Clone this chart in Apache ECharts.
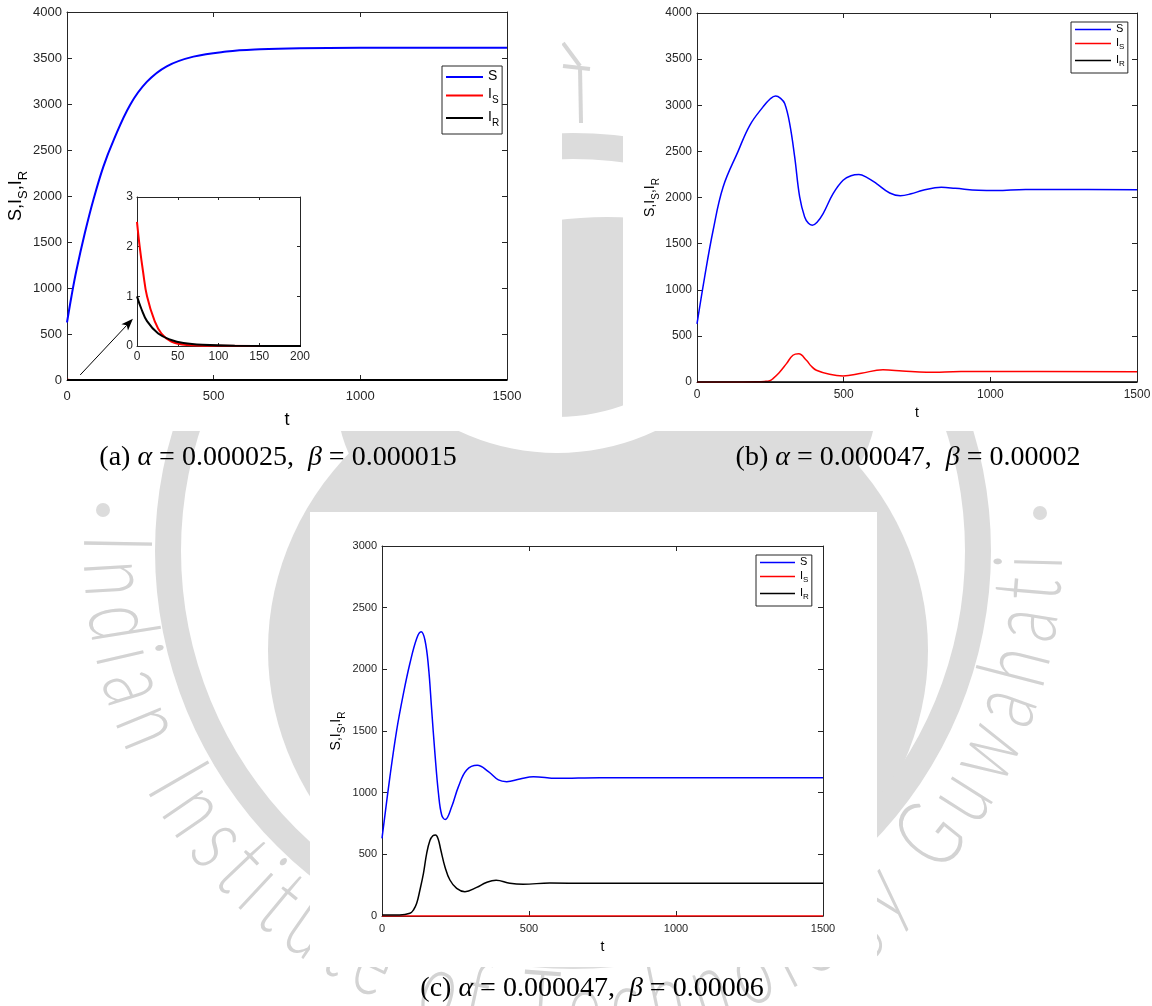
<!DOCTYPE html>
<html>
<head>
<meta charset="utf-8">
<script src="https://cdn.jsdelivr.net/npm/echarts@6/dist/echarts.min.js"></script>
<style>
html,body{margin:0;padding:0;background:#fff}
#chart{width:1152px;height:1006px}
</style>
</head>
<body>
<div id="chart"></div>
<script>
// ---- (a) alpha = 0.000025, beta = 0.000015 : [t, value] ----
const aS  = [[0,625],[15,905],[32,1190],[61,1600],[90,1960],[124,2320],[158,2600],[215,2990],[272,3240],[340,3410],[431,3515],[544,3570],[658,3594],[794,3606],[1000,3611],[1500,3612]];
const aIS = [[0,2.5],[3.3,2.0],[7.4,1.5],[12.3,1.0],[21.7,0.5],[30,0.25],[42,0.09],[61,0.02],[90,0.003],[200,0],[1500,0]];
const aIR = [[0,1.0],[5.3,0.75],[12.3,0.5],[26,0.25],[42,0.12],[57,0.06],[80,0.025],[120,0.006],[200,0.001],[1500,0]];

// ---- (b) alpha = 0.000047, beta = 0.00002 ----
const bS  = [[0,630],[26,1138],[55,1645],[89,2114],[140,2500],[180,2783],[225,2982],[250,3070],[268,3100],[285,3075],[299,3018],[316,2801],[333,2440],[350,2006],[367,1789],[380,1720],[393,1700],[410,1735],[430,1826],[464,2042],[498,2187],[525,2235],[552,2248],[580,2215],[612,2151],[657,2049],[693,2020],[730,2040],[770,2078],[833,2110],[880,2100],[960,2078],[1020,2076],[1120,2088],[1250,2086],[1500,2085]];
const bIS = [[0,0],[150,0.5],[200,2],[230,6],[248,14],[259,37],[280,100],[305,199],[327,290],[347,305],[373,235],[390,170],[407,127],[452,83],[498,66],[560,95],[634,132],[700,120],[782,106],[900,113],[1000,114],[1500,112]];
const bIR = [[0,1],[100,0.1],[1500,0]];

// ---- (c) alpha = 0.000047, beta = 0.00006 ----
const cS  = [[0,630],[27,1130],[50,1508],[73,1805],[95,2049],[118,2251],[133,2305],[146,2238],[158,2022],[169,1670],[180,1319],[192,995],[203,819],[215,782],[237,886],[260,1049],[288,1184],[324,1222],[362,1170],[396,1103],[424,1089],[469,1111],[515,1130],[594,1116],[741,1121],[1000,1120],[1500,1120]];
const cIS = [[0,0],[1500,0]];
const cIR = [[0,8],[60,8],[95,22],[107,49],[118,103],[129,211],[141,346],[152,508],[163,612],[173,650],[182,657],[191,625],[200,535],[214,400],[231,292],[254,224],[282,197],[322,232],[355,272],[388,290],[435,265],[480,257],[571,268],[700,265],[1500,265]];

// ---- axis ranges [min, max, step] ----
const tRange      = [0, 1500, 500];
const insetTRange = [0, 200, 50];
const yRangeAB    = [0, 4000, 500];
const yRangeInset = [0, 3, 1];
const yRangeC     = [0, 3000, 500];

// ---- texts ----
const legendLabels = {S: '{m|S}', IS: '{m|I}{s|S}', IR: '{m|I}{s|R}'};
const yAxisTitle = '{m|S,I}{s|S}{m|,I}{s|R}';
const xAxisTitle = 't';
const captions = [
  '(a) {i|α} = 0.000025,  {i|β} = 0.000015',
  '(b) {i|α} = 0.000047,  {i|β} = 0.00002',
  '(c) {i|α} = 0.000047,  {i|β} = 0.00006'
];
const sealText = 'Indian Institute of Technology Guwahati';

// arrow from the main axes of (a) to the inset: tail in (a) units, head in inset units
const arrowTail = [45, 55];
const arrowHead = [-5, 0.55];

const SANS = "'Liberation Sans', Arial, Helvetica, sans-serif";
const SERIF = "'Liberation Serif', 'DejaVu Serif', serif";
const INK = '#262626';
const BLUE = '#0000ff', RED = '#ff0000', BLACK = '#000000';

function axisPair(dim, g, range, o) {
  const base = {
    gridIndex: g, type: 'value', min: range[0], max: range[1], interval: range[2],
    axisLine: {show: true, onZero: false, lineStyle: {color: INK, width: 1}},
    axisTick: {show: true, inside: true, length: o.tick, lineStyle: {color: INK, width: 1}},
    splitLine: {show: false}, minorTick: {show: false}
  };
  const main = Object.assign({}, base, {
    position: dim === 'x' ? 'bottom' : 'left',
    axisLabel: {show: true, margin: o.margin, fontSize: o.fs, fontFamily: SANS, color: INK, formatter: v => String(v)}
  });
  if (o.name) {
    Object.assign(main, {
      name: o.name, nameLocation: 'middle', nameGap: o.nameGap, nameMoveOverlap: false,
      nameRotate: dim === 'y' ? 90 : 0,
      nameTextStyle: o.nameStyle
    });
  }
  const mirror = Object.assign({}, base, {
    position: dim === 'x' ? 'top' : 'right',
    axisLabel: {show: false}
  });
  return [main, mirror];
}

function nameStyle(big, small, drop) {
  return {
    color: '#000', fontFamily: SANS, fontSize: big,
    rich: {
      m: {fontSize: big, fontFamily: SANS, color: '#000', lineHeight: big + 2, verticalAlign: 'top'},
      s: {fontSize: small, fontFamily: SANS, color: '#000', lineHeight: small, padding: [drop, 0, 0, 0], verticalAlign: 'top'}
    }
  };
}

function line(name, data, color, width, xi) {
  return {
    name, type: 'line', data, xAxisIndex: xi, yAxisIndex: xi,
    showSymbol: false, symbol: 'none', smooth: 0.4,
    lineStyle: {color, width}, itemStyle: {color}, emphasis: {disabled: true},
    clip: true
  };
}

function legend(prefix, left, top, o) {
  return {
    orient: 'vertical', left, top,
    data: [prefix + 'S', prefix + 'IS', prefix + 'IR'].map(n => ({name: n, icon: 'rect'})),
    formatter: n => legendLabels[n.slice(2)],
    itemWidth: o.iw, itemHeight: o.ih, itemGap: o.gap, padding: o.pad,
    borderColor: INK, borderWidth: 1, borderRadius: 0, backgroundColor: '#fff',
    selectedMode: false,
    textStyle: {
      color: '#000', fontFamily: SANS, fontSize: o.m,
      rich: {
        m: {fontSize: o.m, fontFamily: SANS, color: '#000', lineHeight: o.m + 2, verticalAlign: 'top'},
        s: {fontSize: o.s, fontFamily: SANS, color: '#000', lineHeight: o.s, padding: [o.drop, 0, 0, 0], verticalAlign: 'top'}
      }
    }
  };
}

const grids = [
  {left: 67, top: 12, width: 440, height: 368},
  {left: 137, top: 197, width: 163, height: 149},
  {left: 697, top: 13, width: 440, height: 369},
  {left: 382, top: 546, width: 441, height: 370}
].map(g => Object.assign({show: false, containLabel: false, outerBoundsMode: 'none'}, g));

const xa = [].concat(
  axisPair('x', 0, tRange, {tick: 5, margin: 10, fs: 13, name: xAxisTitle, nameGap: 31, nameStyle: {fontSize: 18, fontFamily: SANS, color: '#000'}}),
  axisPair('x', 1, insetTRange, {tick: 3, margin: 5, fs: 12}),
  axisPair('x', 2, tRange, {tick: 5, margin: 7, fs: 12, name: xAxisTitle, nameGap: 24, nameStyle: {fontSize: 14, fontFamily: SANS, color: '#000'}}),
  axisPair('x', 3, tRange, {tick: 5, margin: 7, fs: 11, name: xAxisTitle, nameGap: 24, nameStyle: {fontSize: 14, fontFamily: SANS, color: '#000'}})
);
const ya = [].concat(
  axisPair('y', 0, yRangeAB, {tick: 5, margin: 5, fs: 13, name: yAxisTitle, nameGap: 40, nameStyle: nameStyle(18, 13, 10)}),
  axisPair('y', 1, yRangeInset, {tick: 3, margin: 4, fs: 12}),
  axisPair('y', 2, yRangeAB, {tick: 5, margin: 5, fs: 12, name: yAxisTitle, nameGap: 38, nameStyle: nameStyle(14, 10, 8)}),
  axisPair('y', 3, yRangeC, {tick: 5, margin: 5, fs: 11, name: yAxisTitle, nameGap: 37, nameStyle: nameStyle(14, 10, 8)})
);

const series = [
  line('a:S', aS, BLUE, 2, 0), line('a:IS', aIS, RED, 2, 0), line('a:IR', aIR, BLACK, 2, 0),
  line('i:S', aS, BLUE, 2, 2), line('i:IS', aIS, RED, 2, 2), line('i:IR', aIR, BLACK, 2, 2),
  line('b:S', bS, BLUE, 1.5, 4), line('b:IS', bIS, RED, 1.5, 4), line('b:IR', bIR, BLACK, 1.5, 4),
  line('c:S', cS, BLUE, 1.5, 6), line('c:IS', cIS, RED, 1.5, 6), line('c:IR', cIR, BLACK, 1.5, 6)
];

const legends = [
  legend('a:', 442, 66, {iw: 37, ih: 2, gap: 4.5, pad: [3, 3, 6, 4], m: 14, s: 10, drop: 8}),
  legend('b:', 1071, 22, {iw: 36, ih: 1.5, gap: 3, pad: [1, 3, 5, 4], m: 11, s: 8, drop: 6}),
  legend('c:', 756, 555, {iw: 35, ih: 1.5, gap: 3, pad: [1, 3, 5, 4], m: 11, s: 8, drop: 6})
];

// ---- background seal: rings, discs and lettering ----
const SEAL = '#dcdcdc';
function sealElements() {
  const els = [];
  els.push({type: 'circle', x: 607, y: 400, scaleY: 183 / 270, shape: {cx: 0, cy: 0, r: 270}, style: {fill: SEAL}, z: -30, silent: true});
  els.push({type: 'circle', x: 598, y: 650, scaleY: 300 / 330, shape: {cx: 0, cy: 0, r: 330}, style: {fill: SEAL}, z: -30, silent: true});
  els.push({type: 'ring', shape: {cx: 557, cy: 223, r: 230, r0: 194}, style: {fill: '#ffffff'}, z: -29, silent: true});
  els.push({type: 'ring', shape: {cx: 573, cy: 551, r: 418, r0: 392}, style: {fill: SEAL}, z: -28, silent: true});
  els.push({type: 'circle', shape: {cx: 103, cy: 510, r: 7}, style: {fill: SEAL}, z: -28, silent: true});
  els.push({type: 'circle', shape: {cx: 1040, cy: 513, r: 7}, style: {fill: SEAL}, z: -28, silent: true});
  [[[563, 43], [580, 66]], [[563, 66], [590, 69]], [[580, 67], [581, 123]]].forEach(p => {
    els.push({type: 'polyline', shape: {points: p}, style: {stroke: '#d6d6d6', lineWidth: 4, fill: null}, z: -28, silent: true});
  });
  // light condensed lettering along the lower arc, tops toward the centre
  const font = '300 96px Lato, "DejaVu Sans", sans-serif';
  const squeeze = 0.68;
  const ctx = document.createElement('canvas').getContext('2d');
  ctx.font = font;
  const chars = Array.from(sealText);
  const widths = chars.map(ch => ctx.measureText(ch).width * squeeze);
  const total = widths.reduce((s, w) => s + w, 0);
  const cx = 573, cy = 551, r = 458;
  const start = 182 * Math.PI / 180, end = 0.5 * Math.PI / 180;
  const gap = ((start - end) * r - total) / (chars.length - 1);
  let run = 0;
  chars.forEach((ch, i) => {
    const th = start - (run + widths[i] / 2) / r;
    run += widths[i] + gap;
    if (ch === ' ') return;
    els.push({
      type: 'text', x: cx + r * Math.cos(th), y: cy + r * Math.sin(th),
      rotation: Math.PI / 2 - th, scaleX: squeeze,
      style: {text: ch, font, fill: '#d3d3d3', align: 'center', verticalAlign: 'middle'},
      z: -28, silent: true
    });
  });
  return els;
}

function panelElements() {
  return [
    {x: 0, y: 0, width: 562, height: 431},
    {x: 623, y: 0, width: 529, height: 431},
    {x: 310, y: 512, width: 567, height: 455}
  ].map(s => ({type: 'rect', shape: s, style: {fill: '#ffffff'}, z: -10, silent: true}));
}

function captionElements() {
  const pos = [[278, 458], [908, 458], [592, 989]];
  return captions.map((t, i) => ({
    type: 'text', x: pos[i][0], y: pos[i][1], z: 10, silent: true,
    style: {
      text: t, fill: '#000', fontSize: 28, fontFamily: SERIF,
      align: 'center', verticalAlign: 'middle',
      rich: {i: {fontStyle: 'italic', fontSize: 28, fontFamily: SERIF, fill: '#000'}}
    }
  }));
}

const chart = echarts.init(document.getElementById('chart'), null, {renderer: 'canvas', width: 1152, height: 1006});
chart.setOption({
  animation: false,
  backgroundColor: '#ffffff',
  grid: grids,
  xAxis: xa,
  yAxis: ya,
  legend: legends,
  series: series
});

// arrow pointing at the inset
const p0 = chart.convertToPixel({xAxisIndex: 0, yAxisIndex: 0}, arrowTail);
const p1 = chart.convertToPixel({xAxisIndex: 2, yAxisIndex: 2}, arrowHead);
const dx = p1[0] - p0[0], dy = p1[1] - p0[1], L = Math.hypot(dx, dy);
const ux = dx / L, uy = dy / L, nx = -uy, ny = ux;
const hl = 12, hw = 4.5;
const bx = p1[0] - ux * hl, by = p1[1] - uy * hl;
const arrow = [
  {type: 'line', shape: {x1: p0[0], y1: p0[1], x2: bx + ux * 3, y2: by + uy * 3}, style: {stroke: '#000', lineWidth: 1}, z: 10, silent: true},
  {type: 'polygon', shape: {points: [[p1[0], p1[1]], [bx + nx * hw, by + ny * hw], [bx + ux * 3, by + uy * 3], [bx - nx * hw, by - ny * hw]]}, style: {fill: '#000'}, z: 10, silent: true}
];

chart.setOption({
  graphic: {elements: [].concat(sealElements(), panelElements(), captionElements(), arrow)}
});
</script>
</body>
</html>
